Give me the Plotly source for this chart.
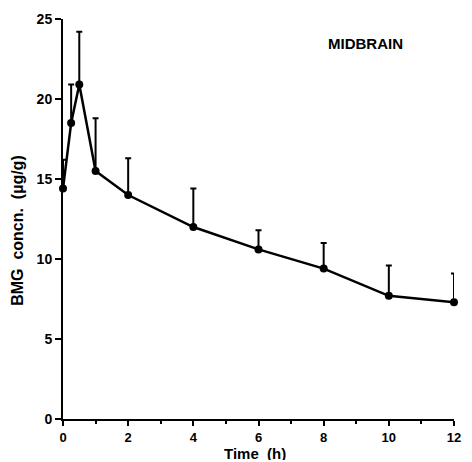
import plotly.graph_objects as go

time_h = [0, 0.25, 0.5, 1, 2, 4, 6, 8, 10, 12]
conc = [14.4, 18.5, 20.9, 15.5, 14.0, 12.0, 10.6, 9.4, 7.7, 7.3]
err_plus = [1.8, 2.4, 3.3, 3.3, 2.3, 2.4, 1.2, 1.6, 1.9, 1.8]
x_ticks = [0, 2, 4, 6, 8, 10, 12]
y_ticks = [0, 5, 10, 15, 20, 25]

FONT = "Liberation Sans, Arial, sans-serif"
L, R, T, B = 63, 461, 19, 419
W, H = 472, 462

def px(xp):
    return (xp - L) / (R - L)

def py(yp):
    return (B - yp) / (B - T)

fig = go.Figure()
fig.add_trace(go.Scatter(
    x=time_h, y=conc, mode="lines+markers",
    line=dict(color="black", width=2.5),
    marker=dict(color="black", size=8),
    error_y=dict(type="data", array=err_plus, arrayminus=[0]*len(err_plus),
                 symmetric=False, color="black", thickness=2, width=3),
    cliponaxis=False, showlegend=False,
))

fig.add_annotation(x=px(371), y=py(43), xref="paper", yref="paper",
                   xanchor="center", yanchor="middle",
                   text="<b>MIDBRAIN</b>", showarrow=False,
                   font=dict(family=FONT, size=15, color="black"))
fig.add_annotation(x=px(258), y=py(453), xref="paper", yref="paper",
                   xanchor="center", yanchor="middle", height=14, borderpad=0,
                   text="<b>Time  (h)</b>", showarrow=False,
                   font=dict(family=FONT, size=15, color="black"))
fig.add_annotation(x=px(16), y=py(230), xref="paper", yref="paper",
                   xanchor="center", yanchor="middle", textangle=-90,
                   text="<b>BMG  concn.  (µg/g)</b>", showarrow=False,
                   font=dict(family=FONT, size=16, color="black"))

fig.update_layout(
    width=W, height=H,
    margin=dict(l=L, r=W - R, t=T, b=H - B),
    paper_bgcolor="white", plot_bgcolor="white",
    font=dict(family=FONT, size=14, color="black"),
)

fig.update_xaxes(
    range=[0, 12], tickvals=x_ticks, ticktext=[f"<b>{v}</b>" for v in x_ticks],
    showline=True, linecolor="black", linewidth=2, showgrid=False, zeroline=False,
    ticks="outside", ticklen=5, tickwidth=2, tickcolor="black", ticklabelstandoff=0,
    minor=dict(tickvals=[1, 3, 5, 7, 9, 11], ticks="outside", ticklen=3, tickwidth=2, tickcolor="black"),
    tickfont=dict(family=FONT, size=13),
)
fig.update_yaxes(
    range=[0, 25], tickvals=y_ticks, ticktext=[f"<b>{v}</b>" for v in y_ticks],
    showline=True, linecolor="black", linewidth=2, showgrid=False, zeroline=False,
    ticks="outside", ticklen=6, tickwidth=2, tickcolor="black",
    tickfont=dict(family=FONT, size=14),
)

fig.write_html("out.html")
